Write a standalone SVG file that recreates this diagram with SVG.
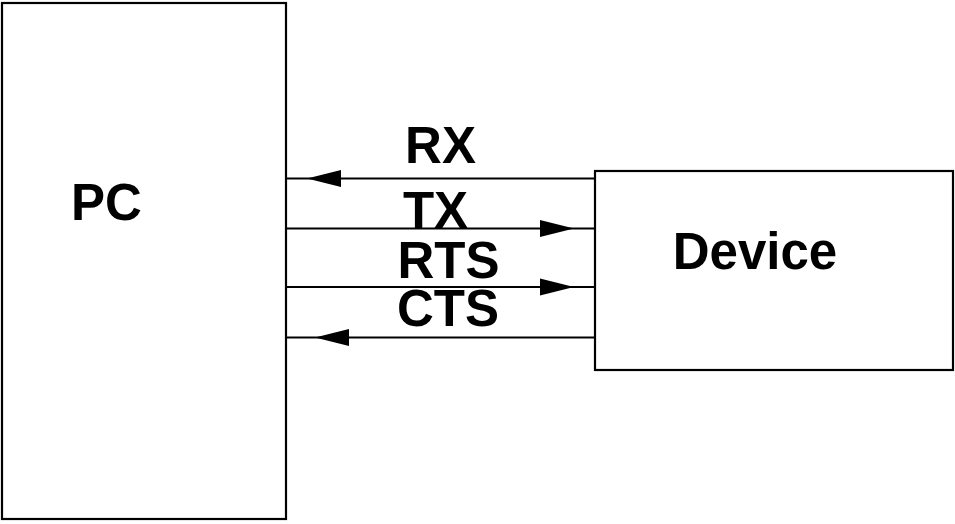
<svg xmlns="http://www.w3.org/2000/svg" width="955" height="524" viewBox="0 0 955 524">
  <style>
    .box { fill: #fff; stroke: #000; stroke-width: 2.2; }
    .wire { stroke: #000; stroke-width: 2.2; fill: none; }
    .head { fill: #000; stroke: none; }
    .lbl { font-family: "Liberation Sans", Arial, Helvetica, sans-serif; font-weight: bold; font-size: 51px; fill: #000; }
  </style>
  <rect width="955" height="524" fill="#fff"/>

  <g id="pc">
    <rect class="box" x="2" y="3" width="284" height="516"/>
    <text class="lbl" x="106.5" y="220" text-anchor="middle">PC</text>
  </g>

  <g id="device">
    <rect class="box" x="595" y="171" width="358" height="199"/>
    <text class="lbl" x="755" y="269" text-anchor="middle">Device</text>
  </g>

  <g id="connectors">
    <!-- RX: device to PC -->
    <line class="wire" x1="286" y1="178.5" x2="595" y2="178.5"/>
    <polygon class="head" points="307,178.5 341,170 341,187"/>
    <text class="lbl" x="440.5" y="162.5" text-anchor="middle">RX</text>

    <!-- TX: PC to device -->
    <line class="wire" x1="286" y1="228.5" x2="595" y2="228.5"/>
    <polygon class="head" points="574,228.5 540,220 540,237"/>
    <text class="lbl" x="435.5" y="228" text-anchor="middle">TX</text>

    <!-- RTS: PC to device -->
    <line class="wire" x1="286" y1="287" x2="595" y2="287"/>
    <polygon class="head" points="574,287 540,278.5 540,295.5"/>
    <text class="lbl" x="448.5" y="278" text-anchor="middle">RTS</text>

    <!-- CTS: device to PC -->
    <line class="wire" x1="286" y1="337.5" x2="595" y2="337.5"/>
    <polygon class="head" points="315,337.5 349,329 349,346"/>
    <text class="lbl" x="448" y="326" text-anchor="middle">CTS</text>
  </g>
</svg>
